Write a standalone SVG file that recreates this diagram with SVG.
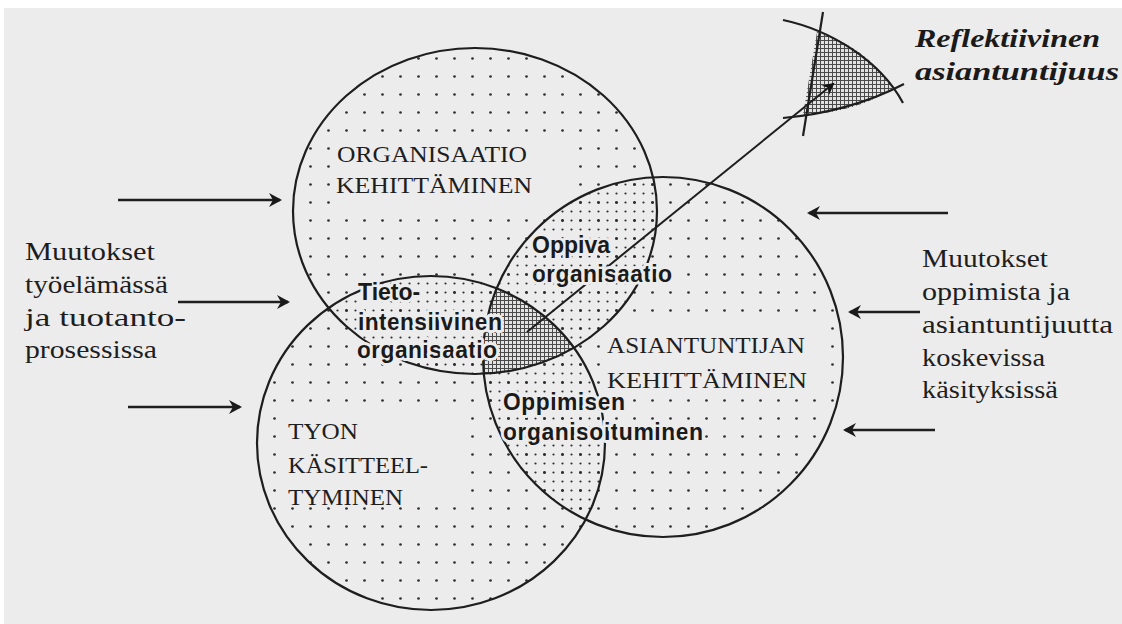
<svg xmlns="http://www.w3.org/2000/svg" width="1122" height="624" viewBox="0 0 1122 624">
<style>
.outline{fill:none;stroke:#1e1e1e;stroke-width:2.2}
.arrow{fill:none;stroke:#1e1e1e;stroke-width:2.6}
.serif{font-family:"Liberation Serif","Times New Roman",serif;fill:#1e1e1e}
.caps{font-size:24px}
.body{font-size:25px}
.sans{font-family:"Liberation Sans",Arial,sans-serif;font-weight:bold;font-size:23px;fill:#1a1a1a}
.refl{font-family:"Liberation Serif","Times New Roman",serif;font-weight:bold;font-style:italic;font-size:26px;fill:#1a1a1a}
.halo{paint-order:stroke;stroke:#ececec;stroke-width:6;stroke-linejoin:round}
.blank{fill:#ececec}
</style>
<defs>
<pattern id="sparse" width="18" height="18" patternUnits="userSpaceOnUse"><circle cx="4.5" cy="4.5" r="1.35" fill="#2e2e2e"/></pattern>
<pattern id="dense" width="9" height="9" patternUnits="userSpaceOnUse"><circle cx="4.5" cy="4.5" r="1.1" fill="#2e2e2e"/></pattern>
<pattern id="hatch" width="4" height="4" patternUnits="userSpaceOnUse"><rect width="4" height="4" fill="#e2e2e2"/><path d="M0 0.5H4M0.5 0V4" stroke="#4a4a4a" stroke-width="1"/></pattern>
<clipPath id="cOrg"><ellipse cx="475" cy="211" rx="182" ry="163"/></clipPath>
<clipPath id="cTyon"><ellipse cx="431" cy="443" rx="174" ry="167"/></clipPath>
<clipPath id="cRight"><circle cx="663" cy="357" r="180"/></clipPath>
<marker id="ah" viewBox="-15 -8 17 16" refX="-2" refY="0" markerWidth="17" markerHeight="16" markerUnits="userSpaceOnUse" orient="auto"><path d="M0,0 L-13,-7 L-9,0 L-13,7 Z" fill="#1a1a1a"/></marker>
<marker id="ahs" viewBox="-13 -7 15 14" refX="-2" refY="0" markerWidth="15" markerHeight="14" markerUnits="userSpaceOnUse" orient="auto"><path d="M0,0 L-12,-6 L-8,0 L-12,6 Z" fill="#111"/></marker>
</defs>

<rect width="1122" height="624" fill="#ececec"/>
<rect width="1122" height="8" fill="#ffffff"/>
<rect width="4" height="624" fill="#ffffff"/>

<!-- base circles -->
<g id="org">
<ellipse cx="475" cy="211" rx="182" ry="163" fill="url(#sparse)"/>
</g>
<g id="tyon">
<ellipse cx="431" cy="443" rx="174" ry="167" fill="url(#sparse)"/>
</g>
<g id="asiantuntijan">
<circle cx="663" cy="357" r="180" fill="url(#sparse)"/>
</g>

<!-- blank zones behind big labels -->
<rect class="blank" x="330" y="134" width="244" height="72"/>
<rect class="blank" x="276" y="413" width="182" height="93"/>
<rect class="blank" x="604" y="326" width="226" height="70"/>

<!-- pairwise overlaps -->
<g id="oppiva-organisaatio">
<ellipse cx="475" cy="211" rx="182" ry="163" fill="url(#dense)" clip-path="url(#cRight)"/>
</g>
<g id="tietointensiivinen-organisaatio">
<ellipse cx="475" cy="211" rx="182" ry="163" fill="url(#dense)" clip-path="url(#cTyon)"/>
</g>
<g id="oppimisen-organisoituminen">
<circle cx="663" cy="357" r="180" fill="url(#dense)" clip-path="url(#cTyon)"/>
</g>
<g id="triple" clip-path="url(#cRight)">
<ellipse cx="475" cy="211" rx="182" ry="163" fill="url(#hatch)" clip-path="url(#cTyon)"/>
</g>

<!-- outlines -->
<g id="outlines">
<ellipse class="outline" cx="475" cy="211" rx="182" ry="163"/>
<ellipse class="outline" cx="431" cy="443" rx="174" ry="167"/>
<circle class="outline" cx="663" cy="357" r="180"/>
</g>

<!-- reflective expertise sector -->
<g id="reflektiivinen">
<path d="M817,32 Q865,46 893,88 Q858,112 803,115 Z" fill="url(#hatch)"/>
<path class="outline" d="M783,20 C830,30 880,60 903,103"/>
<path class="outline" d="M823,12 L803,136"/>
<path class="outline" d="M783,118 Q850,112 904,84"/>
</g>

<!-- connectors -->
<g id="connectors">
<line class="arrow" x1="118" y1="200" x2="280" y2="200" marker-end="url(#ah)"/>
<line class="arrow" x1="178" y1="302" x2="288" y2="302" marker-end="url(#ah)"/>
<line class="arrow" x1="128" y1="407" x2="240" y2="407" marker-end="url(#ah)"/>
<line class="arrow" x1="948" y1="213" x2="809" y2="213" marker-end="url(#ah)"/>
<line class="arrow" x1="920" y1="312" x2="850" y2="312" marker-end="url(#ah)"/>
<line class="arrow" x1="935" y1="430" x2="845" y2="430" marker-end="url(#ah)"/>
<line x1="527" y1="332" x2="833" y2="84" stroke="#1e1e1e" stroke-width="2" marker-end="url(#ahs)"/>
</g>

<!-- labels -->
<g id="labels">
<text class="serif caps" x="337" y="162" textLength="190" lengthAdjust="spacingAndGlyphs">ORGANISAATIO</text>
<text class="serif caps" x="336" y="193" textLength="196" lengthAdjust="spacingAndGlyphs">KEHITTÄMINEN</text>
<text class="serif caps" x="288" y="439" textLength="70" lengthAdjust="spacingAndGlyphs">TYON</text>
<text class="serif caps" x="288" y="473" textLength="140" lengthAdjust="spacingAndGlyphs">KÄSITTEEL-</text>
<text class="serif caps" x="288" y="505" textLength="115" lengthAdjust="spacingAndGlyphs">TYMINEN</text>
<text class="serif caps" x="607" y="353" textLength="198" lengthAdjust="spacingAndGlyphs">ASIANTUNTIJAN</text>
<text class="serif caps" x="607" y="388" textLength="200" lengthAdjust="spacingAndGlyphs">KEHITTÄMINEN</text>

<text class="sans halo" x="532" y="253">Oppiva</text>
<text class="sans halo" x="532" y="282" textLength="140">organisaatio</text>
<text class="sans halo" x="358" y="300">Tieto-</text>
<text class="sans halo" x="358" y="330" textLength="144">intensiivinen</text>
<text class="sans halo" x="357" y="358" textLength="140">organisaatio</text>
<text class="sans halo" x="503" y="410" textLength="122">Oppimisen</text>
<text class="sans halo" x="503" y="440" textLength="200">organisoituminen</text>

<text class="serif body" x="25" y="260" textLength="130" lengthAdjust="spacingAndGlyphs">Muutokset</text>
<text class="serif body" x="25" y="293" textLength="143" lengthAdjust="spacingAndGlyphs">työelämässä</text>
<text class="serif body" x="25" y="326" textLength="161" lengthAdjust="spacingAndGlyphs">ja tuotanto-</text>
<text class="serif body" x="25" y="358" textLength="132" lengthAdjust="spacingAndGlyphs">prosessissa</text>

<text class="serif body" x="922" y="267" textLength="126" lengthAdjust="spacingAndGlyphs">Muutokset</text>
<text class="serif body" x="922" y="300" textLength="148" lengthAdjust="spacingAndGlyphs">oppimista ja</text>
<text class="serif body" x="922" y="333" textLength="191" lengthAdjust="spacingAndGlyphs">asiantuntijuutta</text>
<text class="serif body" x="922" y="366" textLength="123" lengthAdjust="spacingAndGlyphs">koskevissa</text>
<text class="serif body" x="922" y="398" textLength="136" lengthAdjust="spacingAndGlyphs">käsityksissä</text>

<text class="refl" x="915" y="47" textLength="185" lengthAdjust="spacingAndGlyphs">Reflektiivinen</text>
<text class="refl" x="915" y="80" textLength="204" lengthAdjust="spacingAndGlyphs">asiantuntijuus</text>
</g>
</svg>
